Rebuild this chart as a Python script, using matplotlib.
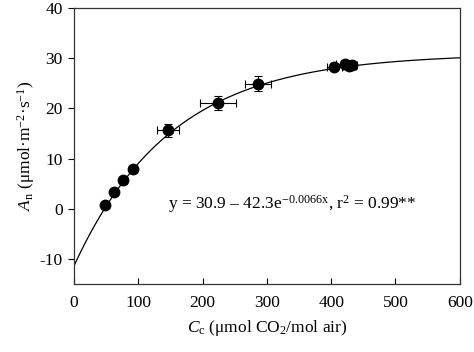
import numpy as np
import matplotlib
matplotlib.use("Agg")
import matplotlib.pyplot as plt

plt.rcParams['font.family'] = ['Liberation Serif', 'DejaVu Serif']
plt.rcParams['mathtext.fontset'] = 'custom'
plt.rcParams['mathtext.rm'] = 'Liberation Serif'
plt.rcParams['mathtext.it'] = 'Liberation Serif:italic'
plt.rcParams['axes.unicode_minus'] = False

# data
cc = [48, 62, 77, 92, 146, 224, 286, 405, 421, 428, 432]
an = [0.8, 3.3, 5.7, 7.9, 15.7, 21.1, 24.9, 28.3, 28.8, 28.5, 28.6]
cc_err = [3, 4, 5, 6, 17, 28, 20, 12, 14, 10, 8]
an_err = [0.4, 0.5, 0.6, 0.7, 1.3, 1.4, 1.5, 0.7, 0.8, 0.6, 0.5]
fit_a, fit_b, fit_k = 30.9, 42.3, 0.0066
xticks = [0, 100, 200, 300, 400, 500, 600]
yticks = [-10, 0, 10, 20, 30, 40]

fig = plt.figure(figsize=(4.74, 3.52), dpi=100)
ax = fig.add_axes([0.156, 0.193, 0.814, 0.784])

xs = np.linspace(0, 600, 300)
ax.plot(xs, fit_a - fit_b * np.exp(-fit_k * xs), color='black', lw=0.9)
ax.errorbar(cc, an, xerr=cc_err, yerr=an_err, fmt='o', color='black',
            ms=7.5, ecolor='black', elinewidth=0.8, capsize=3, capthick=0.8)

ax.set_xlim(0, 600)
ax.set_ylim(-15, 40)
ax.set_xticks(xticks)
ax.set_yticks(yticks)
ax.tick_params(axis='x', direction='in', length=4, labelsize=12.5, pad=8)
ax.tick_params(axis='y', direction='out', length=4, labelsize=12.5, pad=4)
for s in ax.spines.values():
    s.set_linewidth(0.9)
    s.set_color('#333333')

ax.set_xlabel(r'$\mathit{C}_{\mathrm{c}}$ (μmol CO$_2$/mol air)', fontsize=12.5, labelpad=5)
ax.set_ylabel(r'$\mathit{A}_{\mathrm{n}}$ (μmol·m$^{-2}$·s$^{-1}$)', fontsize=12.5, labelpad=2)

ax.text(146, 0.9, r'y = 30.9 – 42.3e$^{-0.0066\mathrm{x}}$, r$^2$ = 0.99**',
        fontsize=12.5, va='center', ha='left')

fig.savefig('out.png', dpi=100)
